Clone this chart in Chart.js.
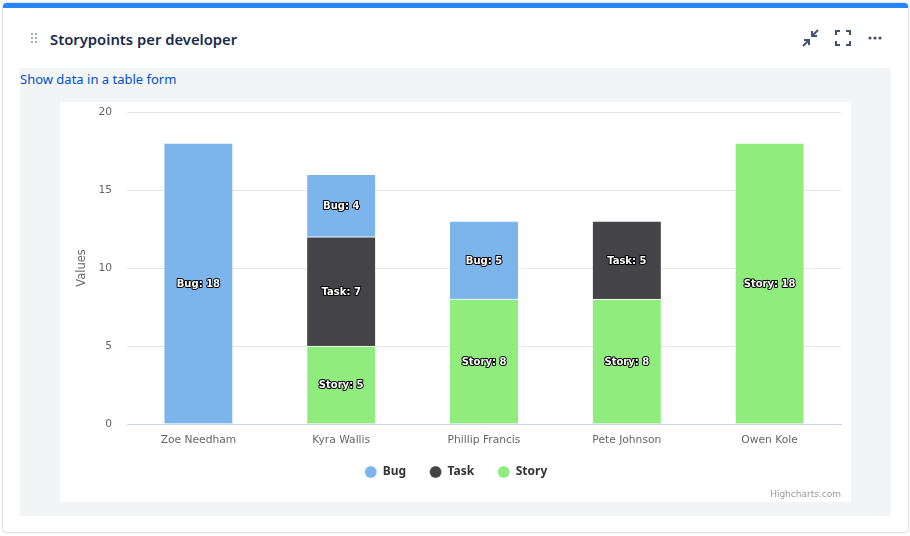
<!DOCTYPE html>
<html>
<head>
<meta charset="utf-8">
<title>Storypoints per developer</title>
<script src="https://cdn.jsdelivr.net/npm/chart.js@4/dist/chart.umd.min.js"></script>
<style>
    html, body { margin: 0; padding: 0; background: #ffffff; overflow: hidden; }
    body { width: 910px; height: 536px; position: relative; font-family: "Noto Sans", sans-serif; }
    .card {
        position: absolute; left: 3px; top: 3px; width: 905px; height: 529px; box-sizing: border-box;
        background: #fff; border-radius: 4px; border-top: 5px solid #2684ff;
        box-shadow: 0 0 2px rgba(9, 30, 66, 0.45);
    }
    .title { position: absolute; left: 50px; top: 28px; font-size: 14.8px; font-weight: 600; line-height: 22px; color: #172b4d; }
    .link { position: absolute; left: 20px; top: 69px; font-size: 13px; line-height: 20px; color: #0052cc; z-index: 2; }
    .panel { position: absolute; left: 20px; top: 68px; width: 871px; height: 448px; background: #f3f4f6; }
    .chartBox { position: absolute; left: 60px; top: 102px; width: 791px; height: 400px; background: #fff; }
    .chartBox canvas { display: block; }
    .credit { position: absolute; right: 69px; top: 488px; font-family: "DejaVu Sans", sans-serif; font-size: 9px; line-height: 12px; color: #999; }
    svg.icon { position: absolute; }
</style>
</head>
<body>
<div class="card"></div>
<svg class="icon" style="left:30px;top:32px" width="8" height="13" fill="#a5adba">
    <rect x="1" y="1" width="2" height="2"/><rect x="5" y="1" width="2" height="2"/>
    <rect x="1" y="5" width="2" height="2"/><rect x="5" y="5" width="2" height="2"/>
    <rect x="1" y="9" width="2" height="2"/><rect x="5" y="9" width="2" height="2"/>
</svg>
<div class="title">Storypoints per developer</div>
<svg class="icon" style="left:801px;top:28px" width="20" height="20" fill="none" stroke="#42526e" stroke-width="2">
    <path d="M17 2 L11 8 M11 3 V8 H16"/>
    <path d="M2 18 L8 12 M3 12 H8 V17"/>
</svg>
<svg class="icon" style="left:834px;top:29px" width="18" height="18" fill="none" stroke="#42526e" stroke-width="2">
    <path d="M2 6 V2 H6 M12 2 H16 V6 M16 12 V16 H12 M6 16 H2 V12"/>
</svg>
<svg class="icon" style="left:868px;top:35px" width="14" height="6" fill="#42526e">
    <circle cx="2" cy="3" r="1.6"/><circle cx="7" cy="3" r="1.6"/><circle cx="12" cy="3" r="1.6"/>
</svg>
<div class="panel"></div>
<div class="link">Show data in a table form</div>
<div class="chartBox"><canvas id="storyChart" width="791" height="400"></canvas></div>
<div class="credit">Highcharts.com</div>

<script>
const categories = ['Zoe Needham', 'Kyra Wallis', 'Phillip Francis', 'Pete Johnson', 'Owen Kole'];
const bugValues = [18, 4, 5, null, null];
const taskValues = [null, 7, null, 5, null];
const storyValues = [null, 5, 8, 8, 18];
const yTicks = [0, 5, 10, 15, 20];

const fontName = '"DejaVu Sans", sans-serif';

// labels inside the segments, white text with a black outline
const segmentLabels = {
    id: 'segmentLabels',
    afterDatasetsDraw(chart) {
        const ctx = chart.ctx;
        ctx.save();
        ctx.font = 'bold 10px ' + fontName;
        ctx.textAlign = 'center';
        ctx.textBaseline = 'middle';
        ctx.lineJoin = 'round';
        chart.data.datasets.forEach((ds, i) => {
            chart.getDatasetMeta(i).data.forEach((bar, j) => {
                if (ds.data[j] == null) return;
                const text = ds.label + ': ' + ds.data[j];
                const y = (bar.y + bar.base) / 2 + 1;
                ctx.strokeStyle = '#000';
                ctx.lineWidth = 2;
                ctx.strokeText(text, bar.x, y);
                ctx.fillStyle = '#fff';
                ctx.fillText(text, bar.x, y);
            });
        });
        ctx.restore();
    }
};

// legend sits a bit closer to the axis than its padding would allow
const legendNudge = {
    id: 'legendNudge',
    afterLayout(chart) {
        chart.legend.top -= 5.5;
        chart.legend.bottom -= 5.5;
        chart.legend.left += 5.5;
        chart.legend.right += 5.5;
    }
};

new Chart(document.getElementById('storyChart'), {
    type: 'bar',
    data: {
        labels: categories,
        datasets: [
            { label: 'Story', data: storyValues, backgroundColor: '#90ed7d' },
            { label: 'Task', data: taskValues, backgroundColor: '#434348' },
            { label: 'Bug', data: bugValues, backgroundColor: '#7cb5ec' }
        ]
    },
    plugins: [segmentLabels, legendNudge],
    options: {
        responsive: false,
        animation: false,
        layout: { padding: { top: 10, right: 10, bottom: 8.5, left: 0 } },
        datasets: {
            bar: { barThickness: 68, borderColor: '#ffffff', borderWidth: { top: 1 }, borderSkipped: false }
        },
        plugins: {
            legend: {
                position: 'bottom',
                reverse: true,
                labels: {
                    usePointStyle: true,
                    pointStyle: 'circle',
                    boxHeight: 8.5,
                    pointStyleWidth: 12,
                    padding: 23.5,
                    color: '#333333',
                    font: { family: '"Noto Sans", sans-serif', size: 12, weight: 'bold' }
                }
            },
            tooltip: { enabled: false }
        },
        scales: {
            x: {
                stacked: true,
                afterFit: (axis) => { axis.height = 24; },
                grid: { display: false },
                border: { color: '#ccd6eb', width: 1 },
                ticks: { color: '#666666', padding: 2, maxRotation: 0, font: { family: fontName, size: 10.7 } }
            },
            y: {
                stacked: true,
                min: 0,
                max: 20,
                afterBuildTicks: (axis) => { axis.ticks = yTicks.map(v => ({ value: v })); },
                afterFit: (axis) => { axis.width = 67; axis.paddingTop = 0; axis.paddingBottom = 0; },
                title: { display: true, text: 'Values', color: '#666666', padding: { top: 15, bottom: 0 }, font: { family: fontName, size: 11.5 } },
                grid: { color: '#e6e6e6', drawTicks: false },
                border: { display: false },
                ticks: { color: '#666666', padding: 15, font: { family: fontName, size: 10.7 } }
            }
        }
    }
});
</script>
</body>
</html>
